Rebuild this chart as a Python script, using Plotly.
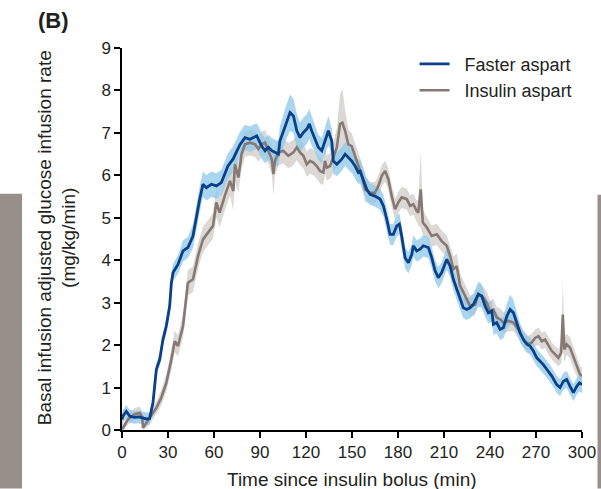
import plotly.graph_objects as go
import numpy as np

# ---------------- data ----------------
fast_t = [0, 0.7, 2.8, 5, 8, 11, 14, 16, 18, 20.2, 22.4, 24.6, 26.7, 28.9, 31.1, 32.2, 33.3, 36.5, 39.8, 43,
          46.3, 48.5, 50.7, 52.8, 55, 58.3, 61.5, 64.8, 67, 69.1, 72.4, 74.6, 77, 80.2, 83.5, 87.9, 91.1, 93.3, 95.4, 97.7,
          99.8, 102, 103, 105.2, 107.4, 109.6, 111.8, 114, 116.1, 118.3, 120.5, 122.2, 123.7, 125.9, 128, 130.3, 132.4, 134.6, 136.8, 137.8,
          140.1, 143.3, 145.5, 147.6, 149.8, 152, 154.1, 155.3, 157.4, 159.6, 161.8, 165, 168.3, 170.5, 172.7, 174.8, 177, 179.2, 180.9, 182.4,
          184.6, 186.8, 189, 190, 192.2, 194.4, 196.5, 199.8, 202, 204.2, 206.3, 208.5, 211.8, 214, 216.1, 218.3, 220.5, 222.6, 224.8, 227,
          229.2, 232.4, 234.6, 236.8, 238.9, 241.2, 242.2, 244.4, 246.6, 248.7, 251, 253.1, 255.3, 257.5, 259.6, 261.8, 264, 266.1, 268.3, 270.5,
          272.7, 274.8, 277, 280.3, 283.5, 285.7, 287.9, 290, 292.2, 294.4, 296.6, 298.3, 300]
fast_v = [0.25, 0.33, 0.44, 0.33, 0.30, 0.31, 0.28, 0.26, 0.27, 0.64, 1.43, 1.66, 2.13, 2.45, 2.92, 3.47, 3.71, 3.90, 4.22, 4.30,
          4.57, 5.04, 5.44, 5.79, 5.71, 5.79, 5.75, 5.83, 6.03, 6.22, 6.38, 6.54, 6.73, 6.89, 6.85, 6.93, 6.69, 6.58, 6.66, 6.58,
          6.54, 6.50, 6.81, 7.05, 7.28, 7.48, 7.40, 7.05, 6.89, 7.01, 7.09, 7.21, 7.05, 6.85, 6.66, 6.58, 6.81, 7.05, 6.81, 6.34,
          6.26, 6.38, 6.50, 6.42, 6.34, 6.22, 6.07, 6.10, 5.91, 5.67, 5.55, 5.51, 5.44, 5.28, 4.96, 4.61, 4.61, 4.81, 4.85, 4.57,
          4.06, 3.94, 4.14, 4.34, 4.22, 4.26, 4.34, 4.30, 4.06, 3.75, 3.59, 3.71, 4.02, 3.86, 3.55, 3.31, 3.08, 2.88, 2.84, 2.88,
          2.96, 3.20, 3.16, 2.92, 2.76, 2.80, 2.49, 2.53, 2.37, 2.41, 2.68, 2.84, 2.76, 2.53, 2.29, 2.13, 2.02, 1.98, 1.86, 1.70,
          1.62, 1.54, 1.43, 1.27, 1.07, 1.00, 1.15, 1.19, 1.03, 0.88, 1.03, 1.11, 1.07]
fast_se = [0.15, 0.15, 0.15, 0.15, 0.15, 0.15, 0.15, 0.15, 0.15, 0.15, 0.15, 0.15, 0.15, 0.18, 0.18, 0.2, 0.2, 0.22, 0.25, 0.25,
           0.28, 0.3, 0.3, 0.3, 0.3, 0.3, 0.3, 0.3, 0.3, 0.3, 0.3, 0.3, 0.3, 0.3, 0.3, 0.3, 0.3, 0.3, 0.3, 0.3,
           0.3, 0.3, 0.35, 0.4, 0.4, 0.43, 0.4, 0.4, 0.35, 0.35, 0.35, 0.35, 0.35, 0.3, 0.3, 0.3, 0.3, 0.35, 0.3, 0.3,
           0.28, 0.28, 0.28, 0.28, 0.28, 0.28, 0.28, 0.28, 0.28, 0.28, 0.25, 0.25, 0.25, 0.25, 0.25, 0.25, 0.25, 0.25, 0.25, 0.25,
           0.25, 0.25, 0.25, 0.25, 0.25, 0.25, 0.25, 0.25, 0.25, 0.25, 0.25, 0.25, 0.25, 0.25, 0.25, 0.25, 0.25, 0.25, 0.25, 0.25,
           0.25, 0.3, 0.28, 0.25, 0.25, 0.25, 0.25, 0.25, 0.25, 0.25, 0.3, 0.35, 0.3, 0.25, 0.22, 0.2, 0.2, 0.2, 0.2, 0.2,
           0.2, 0.2, 0.2, 0.2, 0.2, 0.2, 0.2, 0.2, 0.2, 0.2, 0.2, 0.2, 0.2]

asp_t = [0, 0.7, 3.9, 8.3, 11.5, 13.2, 13.7, 15.9, 19.1, 22.4, 25.6, 28.9, 32.2, 34.4, 36.5, 39.8, 43, 46.3, 49.6, 52.8,
         56.1, 59.4, 61.5, 63.7, 67, 70.4, 72.6, 73.7, 75.9, 78, 80.2, 83.5, 86.8, 88.9, 91.1, 93.3, 95.4, 97.7, 98.7, 99.8,
         102, 105.2, 108.5, 111.8, 114, 116.1, 118.3, 120.5, 122.6, 124.8, 127, 129.2, 131.3, 132.4, 133.5, 135.7, 137.8, 140.1, 142.2, 143.7,
         145.5, 147.6, 149.8, 152, 154.1, 156.4, 158.5, 161.8, 165, 167.2, 169.4, 171.6, 173.7, 175.9, 178.1, 180.2, 182.4, 185.7, 187.9, 190,
         192.2, 193.3, 194.8, 196.2, 198.8, 202, 205.3, 208.5, 211.8, 214, 216.1, 218.3, 220.5, 223.7, 227, 230.3, 232.4, 235.7, 237.9, 240.1,
         242.2, 244.4, 246.6, 248.7, 252, 255.3, 258.5, 261.8, 265, 267.2, 269.4, 271.6, 273.8, 275.9, 278.1, 280.3, 282.5, 284.6, 286.4, 287.5,
         288.5, 290, 292.2, 294.4, 296.6, 298.7, 300]
asp_v = [0.05, 0.05, 0.25, 0.37, 0.40, 0.30, 0.05, 0.17, 0.33, 0.52, 0.76, 1.11, 1.66, 2.09, 1.98, 2.45, 3.47, 3.55, 4.10, 4.49,
         4.65, 4.81, 5.36, 5.12, 5.51, 5.87, 5.63, 6.26, 5.95, 6.50, 6.73, 6.77, 6.73, 6.62, 6.73, 6.77, 6.58, 6.38, 6.03, 6.34,
         6.54, 6.58, 6.46, 6.54, 6.66, 6.54, 6.46, 6.26, 6.34, 6.30, 6.22, 6.10, 6.07, 6.34, 6.18, 6.22, 6.42, 6.66, 7.21, 7.24,
         7.05, 6.73, 6.69, 6.45, 6.26, 5.99, 5.67, 5.59, 5.59, 5.75, 5.99, 6.10, 5.91, 5.51, 5.20, 5.36, 5.48, 5.44, 5.28, 5.32,
         5.16, 5.12, 5.67, 4.89, 4.77, 4.57, 4.61, 4.45, 4.34, 4.10, 3.79, 3.86, 3.40, 3.18, 2.92, 2.96, 3.20, 3.12, 3.00, 2.80,
         2.84, 2.65, 2.61, 2.53, 2.57, 2.53, 2.37, 2.13, 2.02, 2.06, 2.17, 2.21, 2.09, 2.13, 1.98, 1.86, 1.78, 1.70, 1.82, 2.72,
         1.90, 2.02, 1.94, 1.70, 1.51, 1.31, 1.27]
asp_se = [0.1, 0.1, 0.12, 0.15, 0.15, 0.15, 0.1, 0.12, 0.15, 0.15, 0.18, 0.2, 0.25, 0.25, 0.25, 0.28, 0.3, 0.3, 0.3, 0.3,
          0.3, 0.3, 0.35, 0.35, 0.35, 0.35, 0.45, 0.4, 0.35, 0.35, 0.3, 0.3, 0.3, 0.3, 0.3, 0.3, 0.3, 0.35, 0.5, 0.35,
          0.3, 0.3, 0.3, 0.3, 0.3, 0.3, 0.3, 0.3, 0.3, 0.3, 0.3, 0.3, 0.3, 0.3, 0.3, 0.3, 0.35, 0.45, 0.7, 0.8,
          0.5, 0.35, 0.3, 0.3, 0.3, 0.3, 0.3, 0.25, 0.25, 0.25, 0.25, 0.25, 0.25, 0.25, 0.25, 0.25, 0.25, 0.25, 0.25, 0.25,
          0.25, 0.3, 0.9, 0.3, 0.25, 0.25, 0.25, 0.25, 0.25, 0.25, 0.3, 0.3, 0.3, 0.25, 0.25, 0.25, 0.25, 0.25, 0.25, 0.25,
          0.25, 0.25, 0.25, 0.25, 0.25, 0.2, 0.2, 0.2, 0.2, 0.2, 0.2, 0.2, 0.2, 0.2, 0.2, 0.2, 0.2, 0.2, 0.25, 0.8,
          0.3, 0.25, 0.25, 0.25, 0.25, 0.2, 0.2]

assert len(fast_t) == len(fast_v) == len(fast_se), (len(fast_t), len(fast_v), len(fast_se))
assert len(asp_t) == len(asp_v) == len(asp_se), (len(asp_t), len(asp_v), len(asp_se))

x_ticks = [0, 30, 60, 90, 120, 150, 180, 210, 240, 270, 300]
y_ticks = [0, 1, 2, 3, 4, 5, 6, 7, 8, 9]

FAST_LINE = "#0a3f8a"
FAST_BAND = "rgba(140,200,232,0.75)"
ASP_LINE = "#867974"
ASP_BAND = "rgba(205,200,196,0.7)"
TXT = "#231f20"
FONT = "Liberation Sans, Arial, sans-serif"

fig = go.Figure()

def band(t, v, se, color):
    t = np.array(t); v = np.array(v); se = np.array(se)
    up = v + se
    lo = np.clip(v - se, 0, None)
    return go.Scatter(x=np.concatenate([t, t[::-1]]), y=np.concatenate([up, lo[::-1]]),
                      fill="toself", fillcolor=color, line=dict(width=0), mode="lines",
                      hoverinfo="skip", showlegend=False)

fig.add_trace(band(asp_t, asp_v, asp_se, ASP_BAND))
fig.add_trace(band(fast_t, fast_v, fast_se, FAST_BAND))
fig.add_trace(go.Scatter(x=asp_t, y=asp_v, mode="lines", name="  Insulin aspart",
                         line=dict(color=ASP_LINE, width=2.6), legendgroup="b", legendrank=2))
fig.add_trace(go.Scatter(x=fast_t, y=fast_v, mode="lines", name="  Faster aspart",
                         line=dict(color=FAST_LINE, width=2.8), legendgroup="a", legendrank=1))

fig.update_layout(
    width=601, height=489,
    margin=dict(l=122, r=19, t=48, b=58.5, autoexpand=False),
    paper_bgcolor="white", plot_bgcolor="white",
    font=dict(family=FONT, size=17, color=TXT),
    showlegend=True,
    legend=dict(x=0.636, y=1.006, xanchor="left", yanchor="top", bgcolor="rgba(0,0,0,0)",
                font=dict(size=18, color=TXT), traceorder="grouped", tracegroupgap=0,
                itemwidth=30),
    xaxis=dict(range=[0, 300], tickvals=x_ticks, ticks="outside", ticklen=6, tickwidth=1.5,
               tickcolor="black", showline=True, linecolor="black", linewidth=1.5,
               showgrid=False, zeroline=False, tickfont=dict(size=17), automargin=False),
    yaxis=dict(range=[0, 9], tickvals=y_ticks, ticks="outside", ticklen=6, tickwidth=1.5,
               tickcolor="black", showline=True, linecolor="black", linewidth=1.5,
               showgrid=False, zeroline=False, tickfont=dict(size=17), automargin=False),
    annotations=[
        dict(text="<b>(B)</b>", xref="paper", yref="paper", x=0, y=1, xshift=-86, yshift=28,
             xanchor="left", yanchor="middle", showarrow=False, font=dict(size=22, color=TXT)),
        dict(text="Basal infusion adjusted glucose infusion rate<br>(mg/kg/min)", xref="paper", yref="paper",
             x=0, y=0.502, xshift=-65, xanchor="center", yanchor="middle", textangle=-90,
             showarrow=False, font=dict(size=19, color=TXT)),
        dict(text="Time since insulin bolus (min)", xref="paper", yref="paper",
             x=0.5, y=0, yshift=-49.5, xanchor="center", yanchor="middle",
             showarrow=False, font=dict(size=19, color=TXT)),
    ],
    shapes=[
        dict(type="rect", xref="paper", yref="paper", x0=-122/460, x1=(22-122)/460,
             y0=-58.5/382.5, y1=(430.5-194)/382.5, fillcolor="#998f8a", line=dict(width=0), layer="below"),
        dict(type="rect", xref="paper", yref="paper", x0=(597.5-122)/460, x1=(601-122)/460,
             y0=-58.5/382.5, y1=(430.5-195)/382.5, fillcolor="#998f8a", line=dict(width=0), layer="below"),
    ],
)

fig.write_html("out.html")
